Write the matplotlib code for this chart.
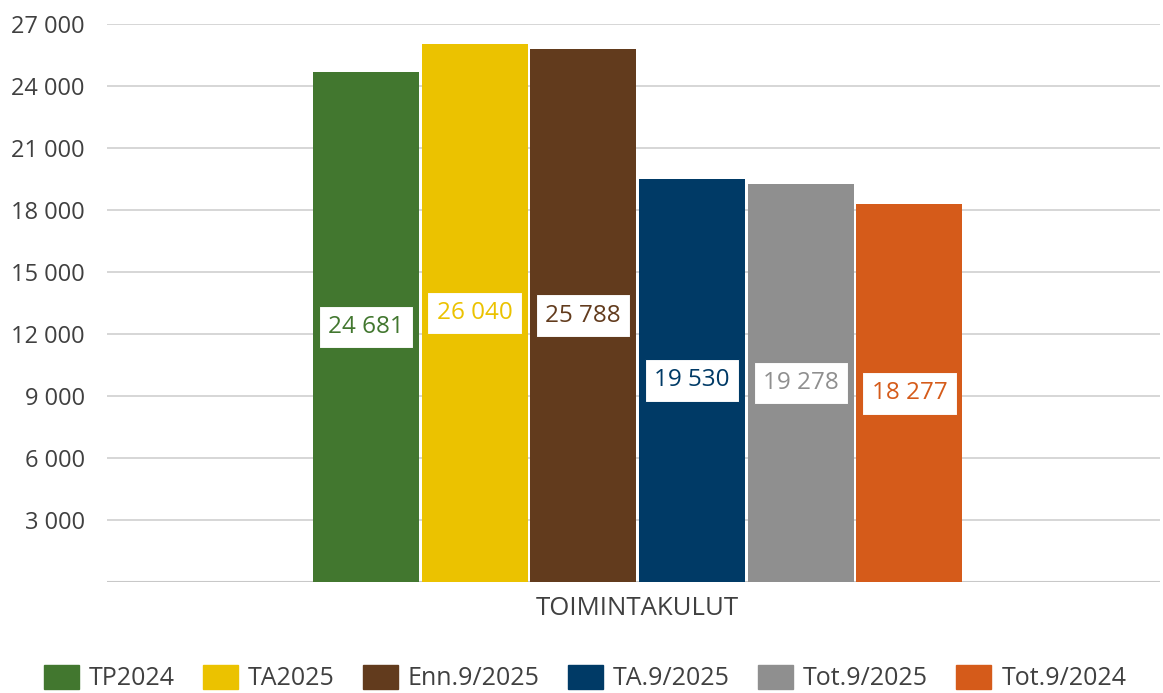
import matplotlib
matplotlib.use("Agg")
import matplotlib.pyplot as plt
from matplotlib.patches import Patch

series = ["TP2024", "TA2025", "Enn.9/2025", "TA.9/2025", "Tot.9/2025", "Tot.9/2024"]
values = [24681, 26040, 25788, 19530, 19278, 18277]
colors = ["#42772F", "#EBC200", "#623B1D", "#003A66", "#8F8F8F", "#D55B1A"]
category = "TOIMINTAKULUT"
yticks = [3000, 6000, 9000, 12000, 15000, 18000, 21000, 24000, 27000]

plt.rcParams['font.family'] = ['Open Sans', 'DejaVu Sans']
FS = 18

fig = plt.figure(figsize=(11.63, 6.93), dpi=100)
ax = fig.add_axes([0.092, 0.160, 0.905, 0.805])

def fmt(v):
    return f"{v:,}".replace(",", " ")

n = len(values)
for i, (s, v, c) in enumerate(zip(series, values, colors)):
    x = i - (n - 1) / 2
    ax.bar(x, v, width=0.975, color=c, zorder=2)
    ax.text(x, v / 2, fmt(v), ha="center", va="center", fontsize=17.5, color=c, zorder=3,
            bbox=dict(boxstyle="square,pad=0.38", facecolor="white", edgecolor=c, linewidth=0.8))

ax.set_xlim(-4.88, 4.80)
ax.set_ylim(0, 27000)
ax.set_yticks(yticks)
ax.set_yticklabels([fmt(t) for t in yticks], fontsize=17, color="#404040")
ax.yaxis.grid(True, color="#D0D0D0", linewidth=1.2, zorder=0)
ax.axhline(0, color="#C8C8C8", linewidth=1.5, zorder=1)
ax.tick_params(axis="y", length=0, pad=16)
ax.set_xticks([0.0])
ax.set_xticklabels([category], fontsize=18.5, color="#404040")
ax.tick_params(axis="x", length=0, pad=10)
for sp in ax.spines.values():
    sp.set_visible(False)

handles = [Patch(facecolor=c, edgecolor=c, label=s) for s, c in zip(series, colors)]
fig.legend(handles=handles, loc="center", bbox_to_anchor=(0.503, 0.022), ncol=6, frameon=False,
           fontsize=FS, handlelength=1.4, handleheight=1.1, handletextpad=0.4, columnspacing=1.13,
           labelcolor="#404040")

fig.savefig("out.png", dpi=100)
